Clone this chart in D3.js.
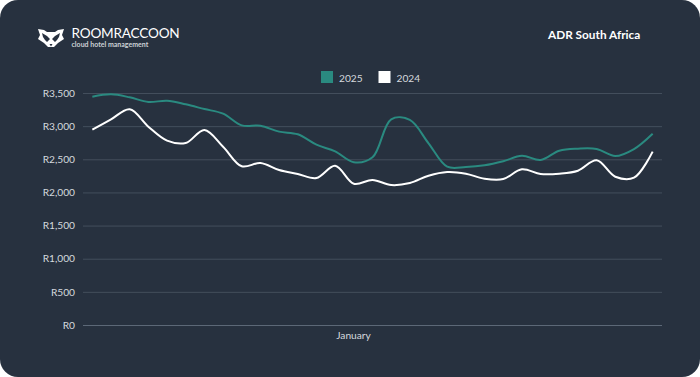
<!DOCTYPE html>
<html>
<head>
<meta charset="utf-8">
<script src="https://cdn.jsdelivr.net/npm/d3@7"></script>
<style>
  html, body { margin: 0; padding: 0; background: #fff; }
  svg { display: block; font-family: Lato, sans-serif; }
</style>
</head>
<body>
<div id="chart"></div>
<script>
// Values, one per day of January
const days = d3.range(1, 32);
const adr2025 = [3444, 3480, 3435, 3364, 3384, 3329, 3258, 3188, 3012, 3007, 2917, 2877, 2720, 2620, 2455, 2530,
  3103, 3093, 2741, 2388, 2384, 2409, 2470, 2554, 2489, 2630, 2660, 2655, 2550, 2655, 2886];
const adr2024 = [2947, 3103, 3254, 2992, 2781, 2746, 2942, 2690, 2394, 2444, 2338, 2278, 2218, 2403, 2132, 2188,
  2112, 2142, 2252, 2308, 2283, 2207, 2202, 2349, 2278, 2283, 2328, 2485, 2237, 2222, 2615];
const yTicks = [0, 500, 1000, 1500, 2000, 2500, 3000, 3500];
const seriesNames = ['2025', '2024'];
const seriesColors = ['#2a8a80', '#ffffff'];

const width = 700, height = 377;
const plot = { left: 83, right: 662, top: 93, bottom: 325 };
const textColor = '#d5d9de';

const svg = d3.select('#chart').append('svg')
  .attr('width', width).attr('height', height);

svg.append('rect')
  .attr('width', width).attr('height', height)
  .attr('rx', 18)
  .attr('fill', '#27313f');

const x = d3.scalePoint().domain(days).range([plot.left, plot.right]).padding(0.5);
const y = d3.scaleLinear().domain([0, 3500]).range([plot.bottom, plot.top]);

// y axis doubles as the gridlines
const yAxis = svg.append('g')
  .attr('transform', `translate(${plot.left},0)`)
  .call(d3.axisLeft(y)
    .tickValues(yTicks)
    .tickSize(-(plot.right - plot.left))
    .tickPadding(8)
    .tickFormat(d => 'R' + d3.format(',')(d)));
yAxis.select('.domain').remove();
yAxis.selectAll('line')
  .attr('stroke', d => d === 0 ? '#5c6877' : '#434e5c')
  .attr('stroke-width', 1);
yAxis.selectAll('text')
  .attr('fill', textColor)
  .attr('font-size', 10.2)
  .attr('font-family', 'Lato, sans-serif');

svg.append('text')
  .attr('x', 353.5)
  .attr('y', 339)
  .attr('text-anchor', 'middle')
  .attr('fill', textColor)
  .attr('font-size', 10.2)
  .text('January');

// Lines
const line = d3.line()
  .x((d, i) => x(days[i]))
  .y(d => y(d))
  .curve(d3.curveCatmullRom.alpha(0.5));

[adr2025, adr2024].forEach((values, i) => {
  svg.append('path')
    .attr('d', line(values))
    .attr('fill', 'none')
    .attr('stroke', seriesColors[i])
    .attr('stroke-width', 2);
});

// Legend
const legend = svg.selectAll('.legend-item').data(seriesNames).join('g')
  .attr('class', 'legend-item')
  .attr('transform', (d, i) => `translate(${321 + i * 57.5},71)`);
legend.append('rect')
  .attr('width', 12).attr('height', 12)
  .attr('fill', (d, i) => seriesColors[i]);
legend.append('text')
  .attr('x', 18).attr('y', 10.5)
  .attr('fill', textColor)
  .attr('font-size', 10.2)
  .text(d => d);

// Title
svg.append('text')
  .attr('x', 548).attr('y', 39)
  .attr('fill', '#ffffff')
  .attr('font-size', 11.8)
  .attr('font-weight', 700)
  .text('ADR South Africa');

// Logo
const logo = svg.append('g').attr('transform', 'translate(38,28)');
logo.append('path')
  .attr('fill', '#ffffff')
  .attr('d', 'M0,1 L6,2 L9,4 L17,4 L20,2 L26,1 L24,7 L26,11 L20,15 L16,19 L10,19 L6,15 L0,11 L2,7 Z');
logo.append('path')
  .attr('fill', '#27313f')
  .attr('d', 'M4,5 L9,8 L12,11 L9,14 L7,12 L5,9 Z M22,5 L17,8 L14,11 L17,14 L19,12 L21,9 Z M11.5,16 L14.5,16 L13,18.5 Z');
logo.append('text')
  .attr('x', 33.5).attr('y', 10)
  .attr('fill', '#ffffff')
  .attr('font-size', 13.6)
  .attr('letter-spacing', -0.2)
  .text('ROOMRACCOON');
logo.append('text')
  .attr('x', 33.5).attr('y', 18.5)
  .attr('fill', '#ccd1d6')
  .attr('font-size', 7)
  .attr('font-weight', 700)
  .text('cloud hotel management');
</script>
</body>
</html>
